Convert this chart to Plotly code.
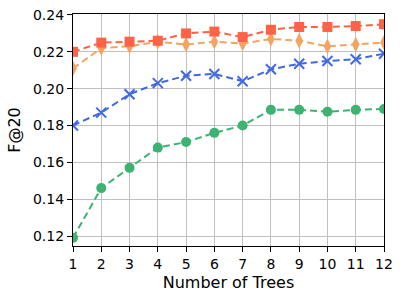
import plotly.graph_objects as go

trees = list(range(1, 13))
red_sq = [0.220, 0.225, 0.2255, 0.226, 0.230, 0.231, 0.228, 0.232, 0.2335, 0.2335, 0.234, 0.235]
orange_dm = [0.211, 0.222, 0.223, 0.2255, 0.224, 0.2255, 0.2245, 0.227, 0.226, 0.223, 0.224, 0.225]
blue_x = [0.180, 0.187, 0.197, 0.203, 0.207, 0.208, 0.204, 0.2105, 0.2135, 0.215, 0.216, 0.219]
green_c = [0.119, 0.146, 0.157, 0.168, 0.171, 0.176, 0.180, 0.1885, 0.1885, 0.1875, 0.1885, 0.189]
y_ticks = [0.12, 0.14, 0.16, 0.18, 0.20, 0.22, 0.24]

fig = go.Figure()
series = [
    (green_c, "#3CB371", "circle", 10),
    (blue_x, "#4169E1", "x-thin", 10),
    (orange_dm, "#F4A460", "diamond-tall", 11),
    (red_sq, "#FF6347", "square", 10),
]
for ys, col, sym, sz in series:
    mk = dict(color=col, symbol=sym, size=sz)
    if sym == "x-thin":
        mk["line"] = dict(color=col, width=2)
    fig.add_trace(go.Scatter(x=trees, y=ys, mode="lines+markers",
                             line=dict(color=col, width=2, dash="7px,4px"),
                             marker=mk, showlegend=False))

fig.update_layout(
    width=404, height=302,
    margin=dict(l=73, r=20, t=14, b=56),
    paper_bgcolor="white", plot_bgcolor="white",
    font=dict(family="DejaVu Sans", size=14, color="black"),
)
fig.update_xaxes(range=[1, 12], tickvals=trees, showgrid=True, gridcolor="#c0c0c0",
                 gridwidth=1, showline=True, linecolor="black", linewidth=1.2, mirror=True,
                 ticks="outside", ticklen=5, tickcolor="black", automargin=False,
                 title=dict(text="Number of Trees", font=dict(size=16), standoff=5), zeroline=False)
fig.update_yaxes(range=[0.11457, 0.24054], tickvals=y_ticks, tickformat=".2f", showgrid=True,
                 gridcolor="#c0c0c0", gridwidth=1, showline=True, linecolor="black", linewidth=1.2,
                 mirror=True, ticks="outside", ticklen=5, tickcolor="black", automargin=False,
                 title=dict(text="F@20", font=dict(size=16), standoff=8), zeroline=False)
fig.write_html("out.html", config={"displayModeBar": False},
               post_script="document.body.style.margin='0';")
